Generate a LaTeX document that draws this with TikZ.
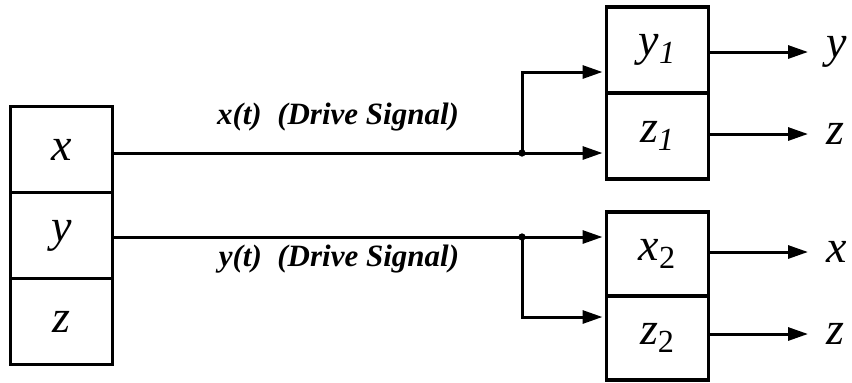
\documentclass[tikz,border=0pt]{standalone}
\usepackage{fontspec}
\setmainfont{Liberation Serif}
\usepackage{tikz}
\usetikzlibrary{arrows.meta}
\usetikzlibrary{positioning}

\begin{document}
\begin{tikzpicture}[x=0.5pt,y=-0.5pt,
    cell/.style={draw,line width=1.6pt,minimum width=51pt,minimum height=43pt,
      inner sep=0pt,outer sep=0pt,font=\fontsize{23}{25}\selectfont\itshape},
    outlbl/.style={inner sep=0pt,anchor=west,font=\fontsize{23}{25}\selectfont\itshape},
    sig/.style={font=\fontsize{15.5}{18}\selectfont\bfseries\itshape},
    wire/.style={line width=1.5pt},
    arr/.style={wire,-{Triangle[length=10pt,width=6.5pt]}}]
        \useasboundingbox (0,0) rectangle (852,382);
        % left box
        \node[cell] (lx) at (61.5,149.5) {x};
        \node[cell,below=0pt of lx] (ly) {y};
        \node[cell,below=0pt of ly] (lz) {z};
        % right boxes
        \node[cell] (ty) at (657.5,50) {y\textsubscript{\textit{1}}};
        \node[cell,below=0pt of ty] (tz) {z\textsubscript{\textit{1}}};
        \node[cell,minimum height=42pt] (bx) at (657.5,254) {x\textsubscript{\upshape 2}};
        \node[cell,minimum height=42pt,below=0pt of bx] (bz) {z\textsubscript{\upshape 2}};
        % outputs
        \node[outlbl] (oy) at (826,52) {y};
        \node[outlbl] (oz) at (826,134) {z};
        \node[outlbl] (ox) at (826,252) {x};
        \node[outlbl] (oz2) at (826,334) {z};
        % drive signals
        \coordinate (j1) at (522,153);
        \coordinate (j2) at (522,237);
        \coordinate (u1) at (522,72);
        \coordinate (d2) at (522,317);
        \draw[wire] (lx.east |- j1) -- (j1);
        \draw[wire] (ly.east |- j2) -- (j2);
        \filldraw (j1) circle (1.6pt);
        \filldraw (j2) circle (1.6pt);
        \draw[arr] (j1) -- ([xshift=-2pt]tz.west |- j1);
        \draw[arr] (j1) -- (u1) -- ([xshift=-2pt]ty.west |- u1);
        \draw[arr] (j2) -- ([xshift=-2pt]bx.west |- j2);
        \draw[arr] (j2) -- (d2) -- ([xshift=-2pt]bz.west |- d2);
        \draw[arr] (ty.east |- oy) -- ([xshift=-9pt]oy.west);
        \draw[arr] (tz.east |- oz) -- ([xshift=-9pt]oz.west);
        \draw[arr] (bx.east |- ox) -- ([xshift=-9pt]ox.west);
        \draw[arr] (bz.east |- oz2) -- ([xshift=-9pt]oz2.west);
        \node[sig] (xs) at (338,117) {x(t)\ \ (Drive Signal)};
        \node[sig] (ys) at (339,259) {y(t)\ \ (Drive Signal)};
      \end{tikzpicture}
\end{document}
